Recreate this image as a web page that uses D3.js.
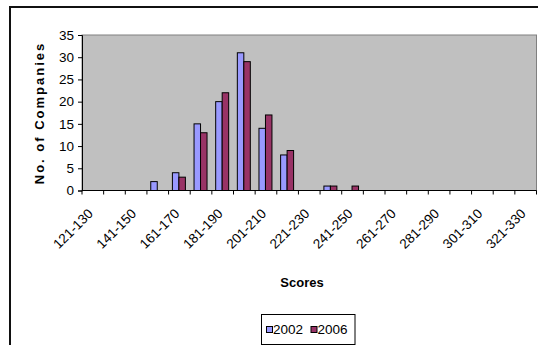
<!DOCTYPE html>
<html>
<head>
<meta charset="utf-8">
<script src="https://cdn.jsdelivr.net/npm/d3@7/dist/d3.min.js"></script>
<style>
  html, body { margin: 0; padding: 0; background: #fff; }
  svg { display: block; }
  text { font-family: "Liberation Sans", Arial, sans-serif; fill: #000; }
</style>
</head>
<body>
<svg id="chart" width="538" height="345"></svg>
<script>
// Score bands (x categories)
const categories = ["121-130","131-140","141-150","151-160","161-170","171-180","181-190",
  "191-200","201-210","211-220","221-230","231-240","241-250","251-260","261-270",
  "271-280","281-290","291-300","301-310","311-320","321-330"];
// Number of companies per band
const values2002 = [0,0,0,2,4,15,20,31,14,8,0,1,0,0,0,0,0,0,0,0,0];
const values2006 = [0,0,0,0,3,13,22,29,17,9,0,1,1,0,0,0,0,0,0,0,0];
const seriesNames = ["2002","2006"];
const seriesColors = ["#9999FF","#993366"];
const yTicks = [0,5,10,15,20,25,30,35];

const svg = d3.select("#chart");
const plot = { left: 82, right: 536.5, top: 35, bottom: 190.5 };

// outer chart frame
svg.append("rect")
  .attr("x", 10).attr("y", 7).attr("width", 560).attr("height", 360)
  .attr("fill", "#fff").attr("stroke", "#111").attr("stroke-width", 2);

const x = d3.scaleBand().domain(categories).range([plot.left, plot.right]).padding(0);
const y = d3.scaleLinear().domain([0, 35]).range([plot.bottom, plot.top]);

// plot area
svg.append("rect")
  .attr("x", plot.left).attr("y", plot.top)
  .attr("width", plot.right - plot.left).attr("height", plot.bottom - plot.top)
  .attr("fill", "#C0C0C0").attr("stroke", "#808080").attr("stroke-width", 1);

// bars
const barW = x.bandwidth() * 0.3;
const series = [values2002, values2006];
series.forEach((vals, si) => {
  svg.append("g").selectAll("rect")
    .data(vals.map((v, i) => ({ cat: categories[i], v })).filter(d => d.v > 0))
    .join("rect")
    .attr("x", d => x(d.cat) + x.bandwidth() / 2 - barW + si * barW - 0.5)
    .attr("y", d => y(d.v))
    .attr("width", barW)
    .attr("height", d => y(0) - y(d.v))
    .attr("fill", seriesColors[si])
    .attr("stroke", "#000").attr("stroke-width", 1);
});

// y axis
const yAxis = svg.append("g").attr("transform", `translate(${plot.left},0)`)
  .call(d3.axisLeft(y).tickValues(yTicks).tickSize(4).tickPadding(4));
yAxis.select(".domain").attr("stroke", "#000");
yAxis.selectAll(".tick line").attr("stroke", "#000");
yAxis.selectAll("text").attr("font-size", 13.5)
  .attr("font-family", "Liberation Sans, Arial, sans-serif");

// x axis: ticks at band boundaries
const xAxisG = svg.append("g");
xAxisG.append("line")
  .attr("x1", plot.left).attr("x2", plot.right)
  .attr("y1", plot.bottom).attr("y2", plot.bottom)
  .attr("stroke", "#000").attr("stroke-width", 1);
const boundaries = categories.map(c => x(c)).concat([x(categories[categories.length - 1]) + x.bandwidth()]);
xAxisG.selectAll("line.tk").data(boundaries).join("line").attr("class", "tk")
  .attr("x1", d => d).attr("x2", d => d)
  .attr("y1", plot.bottom).attr("y2", plot.bottom + 4)
  .attr("stroke", "#000");
xAxisG.selectAll("text").data(categories.filter((c, i) => i % 2 === 0)).join("text")
  .attr("transform", c => `translate(${x(c) + x.bandwidth() / 2 + 1},${plot.bottom + 24}) rotate(-45)`)
  .attr("text-anchor", "end")
  .attr("font-size", 13.5)
  .text(c => c);

// axis titles
svg.append("text")
  .attr("x", 302).attr("y", 287)
  .attr("text-anchor", "middle")
  .attr("font-size", 13).attr("font-weight", "bold")
  .text("Scores");
svg.append("text")
  .attr("transform", "translate(44,113) rotate(-90)")
  .attr("text-anchor", "middle")
  .attr("font-size", 13).attr("font-weight", "bold")
  .attr("letter-spacing", 2)
  .text("No. of Companies");

// legend
const lg = svg.append("g");
lg.append("rect").attr("x", 261.5).attr("y", 314.5).attr("width", 93.5).attr("height", 30)
  .attr("fill", "#fff").attr("stroke", "#000").attr("stroke-width", 1);
const legendX = [266.5, 311];
seriesNames.forEach((name, i) => {
  lg.append("rect").attr("x", legendX[i]).attr("y", 326.5).attr("width", 6).attr("height", 6)
    .attr("fill", seriesColors[i]).attr("stroke", "#000").attr("stroke-width", 1);
  lg.append("text").attr("x", legendX[i] + 6.5).attr("y", 334)
    .attr("font-size", 13.5).text(name);
});
</script>
</body>
</html>
